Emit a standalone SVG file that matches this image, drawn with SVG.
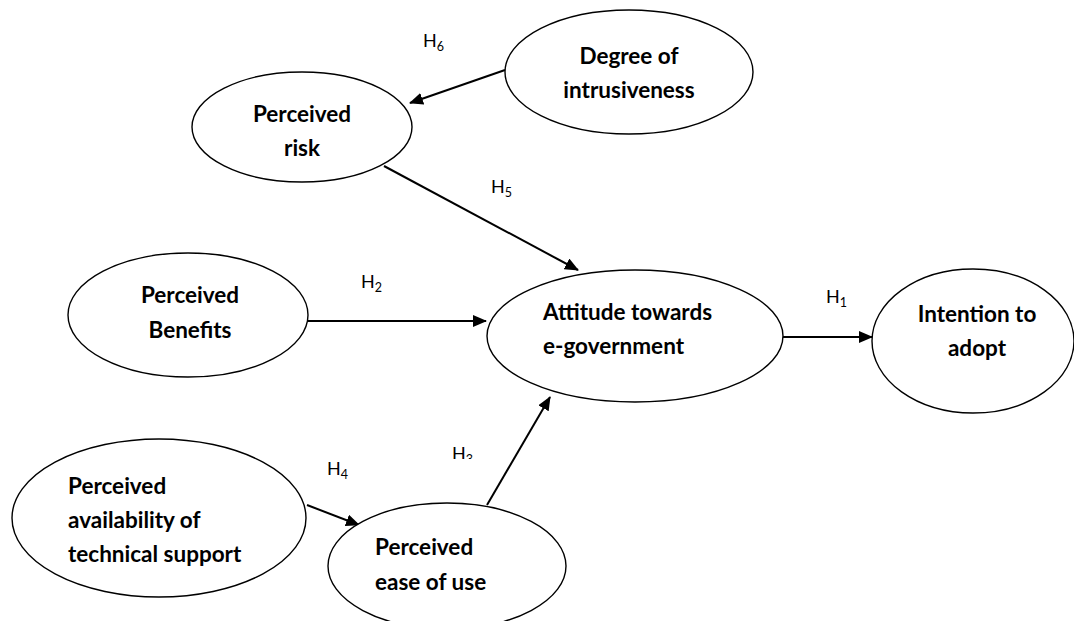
<svg xmlns="http://www.w3.org/2000/svg" width="1074" height="621" viewBox="0 0 1074 621">
<defs>
<marker id="arr" markerUnits="userSpaceOnUse" markerWidth="14" markerHeight="12" refX="13" refY="6" orient="auto">
<path d="M0,0 L14,6 L0,12 Z" fill="#000"/>
</marker>
<clipPath id="clipH3"><rect x="440" y="430" width="60" height="29"/></clipPath>
</defs>
<style>
.node ellipse{fill:#fff;stroke:#000;stroke-width:1.4}
.lbl{font-family:Lato,"Liberation Sans",sans-serif;font-weight:bold;font-size:22.5px;fill:#000}
.c{text-anchor:middle}
.h{font-family:Lato,"Liberation Sans",sans-serif;font-size:18px;fill:#000}
.sub{font-size:12.5px}
.edge{stroke:#000;stroke-width:2;fill:none;marker-end:url(#arr)}
</style>
<rect width="1074" height="621" fill="#fff"/>
<g id="connectors">
<line class="edge" x1="505" y1="70" x2="410" y2="103"/>
<line class="edge" x1="384" y1="166" x2="578" y2="270"/>
<line class="edge" x1="308" y1="321" x2="486" y2="321"/>
<line class="edge" x1="782" y1="337" x2="872" y2="337"/>
<line class="edge" x1="307" y1="505" x2="359" y2="525"/>
<line class="edge" x1="487" y1="505" x2="550" y2="397"/>
</g>
<g id="labels">
<text class="h" x="423" y="47">H<tspan class="sub" dy="4">6</tspan></text>
<text class="h" x="491" y="193">H<tspan class="sub" dy="4">5</tspan></text>
<text class="h" x="361" y="288">H<tspan class="sub" dy="4">2</tspan></text>
<text class="h" x="826" y="303">H<tspan class="sub" dy="4">1</tspan></text>
<text class="h" x="327" y="475">H<tspan class="sub" dy="4">4</tspan></text>
<text class="h" x="452" y="460" clip-path="url(#clipH3)">H<tspan class="sub" dy="4">3</tspan></text>
</g>
<g id="node-intrusiveness" class="node">
<ellipse cx="629" cy="72" rx="124" ry="62"/>
<text class="lbl c" x="629" y="64">Degree of</text>
<text class="lbl c" x="629" y="98">intrusiveness</text>
</g>
<g id="node-risk" class="node">
<ellipse cx="302" cy="127" rx="110" ry="55"/>
<text class="lbl c" x="302" y="122">Perceived</text>
<text class="lbl c" x="302" y="156">risk</text>
</g>
<g id="node-benefits" class="node">
<ellipse cx="188" cy="315" rx="120" ry="62"/>
<text class="lbl c" x="190" y="303">Perceived</text>
<text class="lbl c" x="190" y="338">Benefits</text>
</g>
<g id="node-attitude" class="node">
<ellipse cx="635" cy="336" rx="148" ry="66"/>
<text class="lbl" x="543" y="320">Attitude towards</text>
<text class="lbl" x="543" y="354">e-government</text>
</g>
<g id="node-intention" class="node">
<ellipse cx="973" cy="341" rx="101" ry="72"/>
<text class="lbl c" x="977" y="322">Intention to</text>
<text class="lbl c" x="977" y="356">adopt</text>
</g>
<g id="node-support" class="node">
<ellipse cx="159" cy="518" rx="147" ry="79"/>
<text class="lbl" x="68" y="494">Perceived</text>
<text class="lbl" x="68" y="528">availability of</text>
<text class="lbl" x="68" y="562">technical support</text>
</g>
<g id="node-ease" class="node">
<ellipse cx="447" cy="566" rx="119" ry="63"/>
<text class="lbl" x="375" y="555">Perceived</text>
<text class="lbl" x="375" y="590">ease of use</text>
</g>
</svg>
